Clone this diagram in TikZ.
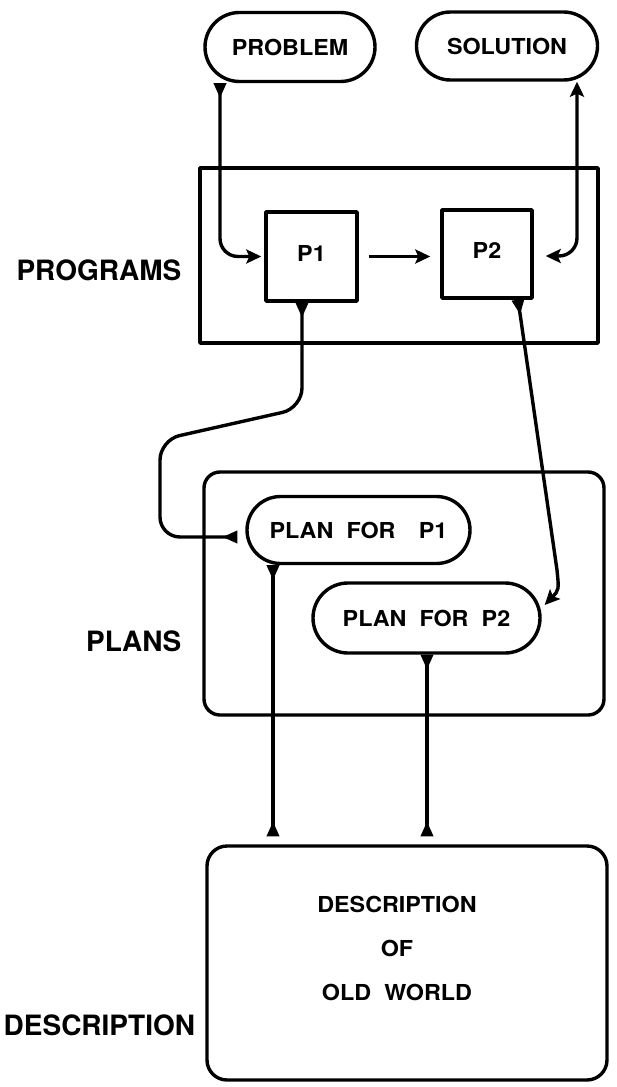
\documentclass[tikz,border=0pt]{standalone}
\usepackage{fontspec}
\setmainfont{TeX Gyre Heros}
\usetikzlibrary{shapes.misc, arrows.meta}

\newcommand\boxfont{\fontsize{22}{26}\selectfont\bfseries\addfontfeatures{FakeStretch=1.06}}
\newcommand\sidefont{\fontsize{28}{32}\selectfont\bfseries}
\newcommand\wgap{\hspace{0.6em}}

\begin{document}
\begin{tikzpicture}[x=1pt, y=-1pt, line width=3.4pt, line join=round,
  pill/.style={rounded rectangle, draw, inner sep=0pt, font=\boxfont},
  sqbox/.style={rectangle, draw, inner sep=0pt, font=\boxfont},
  frame/.style={rectangle, draw, inner sep=0pt},
  txt/.style={inner sep=0pt, font=\boxfont},
  side/.style={inner sep=0pt, font=\sidefont},
  head/.tip={Stealth[length=15pt, width=14pt, inset=3pt]},
  tail/.tip={Triangle[reversed, length=15pt, width=12pt]},
  link/.style={rounded corners=18pt}]

\useasboundingbox (0,0) rectangle (616,1087);

% top level: problem and solution
\node[pill, minimum width=170pt, minimum height=69pt] (problem) at (290,47) {PROBLEM};
\node[pill, minimum width=181pt, minimum height=68pt] (solution) at (507,46) {SOLUTION};

% programs layer
\node[frame, minimum width=398pt, minimum height=175pt] (progframe) at (399,255.5) {};
\node[sqbox, minimum width=91pt, minimum height=89pt] (p1) at (311.5,256.5) {\raisebox{7pt}{P1}};
\node[sqbox, minimum width=90pt, minimum height=88pt] (p2) at (487,254) {\raisebox{7pt}{P2}};
\node[side, anchor=east] (proglabel) at (183,270) {PROGRAMS};

% plans layer
\node[frame, rounded corners=16pt, minimum width=400pt, minimum height=243pt] (planframe) at (404,593.5) {};
\node[pill, minimum width=223pt, minimum height=67pt] (plan1) at (358.5,530) {\raisebox{-3pt}{PLAN\wgap FOR\wgap\, P1}};
\node[pill, minimum width=227pt, minimum height=70pt] (plan2) at (426.5,618) {PLAN\wgap FOR\wgap P2};
\node[side, anchor=east] (planlabel) at (183,641) {PLANS};

% description layer
\node[frame, rounded corners=20pt, minimum width=400pt, minimum height=234pt] (desc) at (407,963) {};
\node[txt, align=center] (desctext) at (397,948)
  {DESCRIPTION\\[18pt]OF\\[18pt]OLD\wgap WORLD};
\node[side, anchor=west] (desclabel) at (2,1025) {DESCRIPTION};

% connectors
\draw[tail-head, link] ([xshift=-70pt]problem.south) |- ([xshift=-3pt]p1.west);
\draw[-head] ([xshift=10pt]p1.east) -- ([xshift=-10pt]p1.east -| p2.west);
\draw[head-head, link] ([xshift=12pt, yshift=-2pt]p2.east) -| ([xshift=70pt]solution.south);

\draw[tail-tail, rounded corners=20pt] ([xshift=-9.5pt]p1.south) -- (302,408) -- (160,440)
  -- (160,537) -- ([xshift=-8pt, yshift=-7pt]plan1.west);
\draw[tail-head] ([xshift=31pt]p2.south) -- (557,570)
  .. controls (559,590) .. ([xshift=3pt, yshift=13pt]plan2.east);

\draw[tail-tail] ([xshift=-85.5pt]plan1.south) -- ([xshift=-134pt, yshift=8pt]desc.north);
\draw[tail-tail] ([xshift=0.5pt]plan2.south) -- ([xshift=20pt, yshift=8pt]desc.north);
\end{tikzpicture}
\end{document}
